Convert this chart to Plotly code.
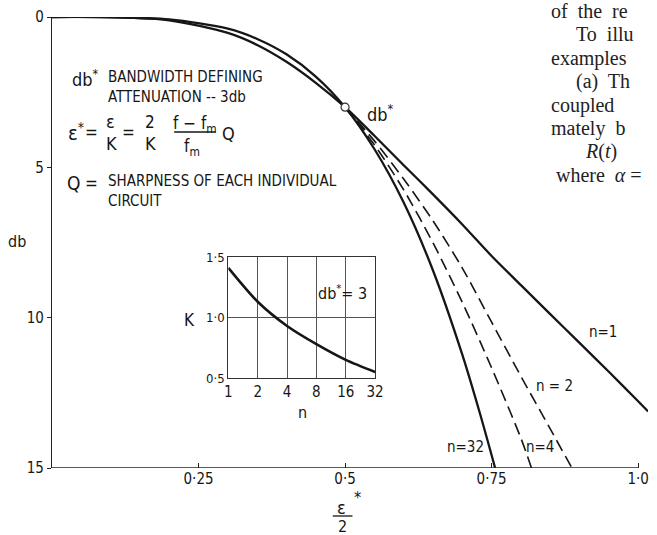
import plotly.graph_objects as go

# Attenuation (db) against normalised detuning eps*/2 for n stages
x_n1 = [0, 0.1, 0.2, 0.3, 0.35, 0.4, 0.45, 0.5, 0.55, 0.6, 0.65, 0.7, 0.75, 0.8, 0.85, 0.9, 0.95, 1.0, 1.017]
db_n1 = [0, 0.01, 0.11, 0.53, 0.93, 1.49, 2.19, 3.0, 3.95, 4.93, 5.9, 6.9, 7.95, 8.92, 9.88, 10.84, 11.8, 12.78, 13.12]

x_n32 = [0, 0.1, 0.2, 0.3, 0.35, 0.4, 0.45, 0.5, 0.55, 0.6, 0.65, 0.7, 0.73, 0.756]
db_n32 = [0, 0.005, 0.08, 0.39, 0.73, 1.24, 1.98, 3.0, 4.39, 6.17, 8.43, 11.23, 13.18, 15.0]

x_n2 = [0.5, 0.55, 0.6, 0.65, 0.7, 0.75, 0.8, 0.85, 0.887]
db_n2 = [3.0, 4.12, 5.39, 6.78, 8.35, 10.15, 11.95, 13.7, 15.0]

x_n4 = [0.5, 0.55, 0.6, 0.65, 0.7, 0.75, 0.8, 0.818]
db_n4 = [3.0, 4.25, 5.75, 7.51, 9.49, 11.67, 14.01, 15.0]

# bandwidth-defining point
x_ref = [0.5]
db_ref = [3.0]

# K against number of stages n (inset)
n_stages = [1, 2, 4, 8, 16, 32]
k_values = [1.41, 1.13, 0.93, 0.78, 0.65, 0.55]

x_ticks = [0.25, 0.5, 0.75, 1.0]
x_ticktext = ["0·25", "0·5", "0·75", "1·0"]
y_ticks = [0, 5, 10, 15]
y_ticktext = ["0", "5", "10", "15"]
n_ticktext = ["1", "2", "4", "8", "16", "32"]
k_ticks = [0.5, 1.0, 1.5]
k_ticktext = ["0·5", "1·0", "1·5"]

SANS = "Liberation Sans Narrow, DejaVu Sans Condensed, Liberation Sans, sans-serif"
SERIF = "Liberation Serif, DejaVu Serif, serif"
INK = "#161616"

W, H = 657, 535
ML, MR, MT, MB = 52, 0, 17, 67
PW, PH = W - ML - MR, H - MT - MB
X_MAX = PW / 595.0          # 595 px per unit of eps*/2


def pp(xp, yp):
    """pixel position -> paper coordinates"""
    return (xp - ML) / PW, (H - MB - yp) / PH


fig = go.Figure()

line_solid = dict(color=INK, width=2.3, shape="spline", smoothing=0.8)
line_dash = dict(color=INK, width=1.6, dash="12px,6px", shape="spline", smoothing=0.8)

fig.add_trace(go.Scatter(x=x_n1, y=db_n1, mode="lines", line=line_solid, name="n=1"))
fig.add_trace(go.Scatter(x=x_n32, y=db_n32, mode="lines", line=line_solid, name="n=32"))
fig.add_trace(go.Scatter(x=x_n2, y=db_n2, mode="lines", line=line_dash, name="n=2"))
fig.add_trace(go.Scatter(x=x_n4, y=db_n4, mode="lines", line=line_dash, name="n=4"))
fig.add_trace(go.Scatter(x=x_ref, y=db_ref, mode="markers",
                         marker=dict(size=8, color="white", line=dict(color="#333", width=1.2)),
                         name="db*"))

fig.add_trace(go.Scatter(x=n_stages, y=k_values, mode="lines", xaxis="x2", yaxis="y2",
                         line=dict(color=INK, width=2.6, shape="spline", smoothing=0.8), name="K"))

x0, x1 = pp(231, 0)[0], pp(380, 0)[0]
y0, y1 = pp(0, 378)[1], pp(0, 257)[1]

fig.update_layout(
    width=W, height=H,
    margin=dict(l=ML, r=MR, t=MT, b=MB),
    paper_bgcolor="white", plot_bgcolor="white",
    showlegend=False,
    font=dict(family=SANS, color=INK, size=14),
    xaxis=dict(range=[0, X_MAX], domain=[0, 1], tickvals=x_ticks, ticktext=x_ticktext,
               showline=False, ticks="inside", ticklen=5,
               tickcolor="#222", showgrid=False, zeroline=False, tickfont=dict(size=15)),
    yaxis=dict(range=[15, 0], domain=[0, 1], tickvals=y_ticks, ticktext=y_ticktext,
               showline=True, linecolor="#222", linewidth=1.3, ticks="outside", ticklen=4,
               tickcolor="#222", showgrid=False, zeroline=False, tickfont=dict(size=15)),
    xaxis2=dict(type="log", range=[0, 1.50515], domain=[x0, x1], anchor="y2",
                tickvals=n_stages, ticktext=n_ticktext, showgrid=True, gridcolor="#555",
                gridwidth=1, showline=True, mirror=True, linecolor="#333", linewidth=1.2,
                ticks="", zeroline=False, tickfont=dict(size=15)),
    yaxis2=dict(range=[0.5, 1.5], domain=[y0, y1], anchor="x2",
                tickvals=k_ticks, ticktext=k_ticktext, showgrid=True, gridcolor="#555",
                gridwidth=1, showline=True, mirror=True, linecolor="#333", linewidth=1.2,
                ticks="", zeroline=False, tickfont=dict(size=13)),
)

annotations = []
# baseline of the main plot, ending at the last tick
shapes = [dict(type="line", xref="x", yref="y", x0=0, x1=x_ticks[-1], y0=15, y1=15,
               line=dict(color="#222", width=1.3))]


def text(xp, yp, s, size=16, anchor="left", family=SANS, color=INK, valign="middle"):
    ax, ay = pp(xp, yp)
    annotations.append(dict(x=ax, y=ay, xref="paper", yref="paper", text=s, showarrow=False,
                            xanchor=anchor, yanchor=valign, align="left",
                            font=dict(size=size, family=family, color=color)))


def bar(xa, xb, yp, width=1.3):
    ax, ay = pp(xa, yp)
    bx, _ = pp(xb, yp)
    shapes.append(dict(type="line", xref="paper", yref="paper", x0=ax, x1=bx, y0=ay, y1=ay,
                       line=dict(color=INK, width=width)))


# definitions block
text(70, 78, "db<sup>*</sup>", 18)
text(107, 87, "BANDWIDTH DEFINING<br>ATTENUATION -- 3db", 15)

text(66, 132, "ε<sup>*</sup>", 20)
text(92, 132, "=", 17, "center")
text(111, 122, "ε", 18, "center")
text(112, 143, "K", 18, "center")
text(130, 132, "=", 17, "center")
text(151, 122, "2", 17, "center")
text(152, 143, "K", 18, "center")
text(197, 124, "f − f<sub>m</sub>", 17, "center")
bar(176, 218, 132)
text(194, 148, "f<sub>m</sub>", 17, "center")
text(231, 133, "Q", 18, "center")

text(74, 183, "Q", 19, "center")
text(92, 183, "=", 17, "center")
text(107, 191, "SHARPNESS OF EACH INDIVIDUAL<br>CIRCUIT", 15)

# curve labels
text(385, 113, "db<sup>*</sup>", 18, "center")
text(611, 332, "n=1", 15, "center")
text(562, 386, "n = 2", 15, "center")
text(547, 447, "n=4", 15, "center")
text(472, 447, "n=32", 15, "center")

# axis titles
text(16, 241, "db", 16, "center")
text(346, 507, "ε", 18, "center")
text(362, 498, "*", 16, "center")
bar(337, 357, 516)
text(347, 526, "2", 16, "center")

# inset titles
text(192, 320, "K", 17, "center")
text(306, 412, "n", 16, "center")
text(347, 292, "db<sup>*</sup>= 3", 16, "center")

# running text of the page beside the figure
SPAN = '<span style="font-size:20px">{}</span>'
body_lines = [
    "of  the  re",
    "\u2003\u2005To  illu",
    "examples",
    "\u2003\u2005(a)  Th",
    "coupled",
    "mately  b",
    "\u2003\u2002\u2005<i>R</i>(<i>t</i>)",
    "\u2005where  <i>α</i> =",
]
text(556, -2, "<br>".join(SPAN.format(s) for s in body_lines), 18, "left", SERIF, "#222", "top")

fig.update_layout(annotations=annotations, shapes=shapes)

fig.write_html("out.html")
